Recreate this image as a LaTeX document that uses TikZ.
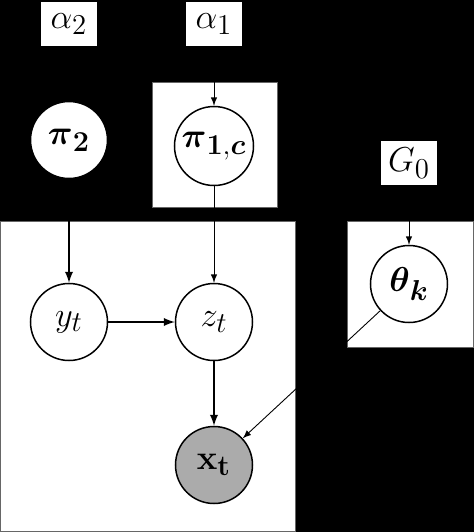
\documentclass[tikz,border=0pt]{standalone}
\usepackage{amsmath, amssymb}
\usetikzlibrary{arrows}

\begin{document}
\begin{tikzpicture}[x=0.5pt, y=-0.5pt, font=\fontsize{19}{22}\selectfont,
    var/.style={circle, draw, fill=white, line width=0.75pt, minimum size=38.5pt, inner sep=0pt},
    obs/.style={var, fill=black!33},
    hyper/.style={rectangle, fill=white, minimum width=28pt, minimum height=22pt, inner sep=0pt},
    plate/.style={fill=white, draw=black!60, line width=0.4pt},
    edge/.style={-latex, line width=0.9pt},
    thinedge/.style={-latex, line width=0.45pt}]
  \fill[black] (0,0) rectangle (474,532);
  \useasboundingbox (0,0) rectangle (474,532);

  % plates
  \draw[plate] (152,82) rectangle (277,207);
  \draw[plate] (0.5,221) rectangle (295,531.5);
  \draw[plate] (347,221) rectangle (473.5,347);

  \node[hyper] (alphatwo) at (69,24) {$\alpha_2$};
  \node[hyper] (alphaone) at (214,24) {$\alpha_1$};
  \node[hyper] (gzero) at (409,163) {$G_0$};

  \node[var] (pitwo) at (69,140) {$\boldsymbol{\pi}_{\mathbf{2}}$};
  \node[var, minimum size=39.5pt] (pione) at (214,146) {$\boldsymbol{\pi}_{\mathbf{1},\boldsymbol{c}}$};
  \node[var] (theta) at (409,284) {$\boldsymbol{\theta}_{\boldsymbol{k}}$};
  \node[var] (y) at (69,322) {$y_t$};
  \node[var] (z) at (214,322) {$z_t$};
  \node[obs] (x) at (214,465) {$\mathbf{x}_{\mathbf{t}}$};

  \draw[thinedge] (alphaone) -- (pione);
  \draw[thinedge] (gzero) -- (theta);
  \draw[edge] (pitwo) -- (y);
  \draw[thinedge] (pione) -- (z);
  \draw[edge] (y) -- (z);
  \draw[edge] (z) -- (x);
  \draw[thinedge] (theta) -- (x);
\end{tikzpicture}
\end{document}
